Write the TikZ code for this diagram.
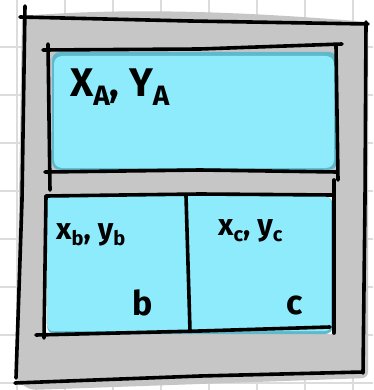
\documentclass[tikz,border=0pt]{standalone}
\usepackage{fontspec}
\setmainfont{Fira Sans}
\definecolor{gridc}{HTML}{DCDCDC}
\definecolor{frameg}{HTML}{C6C6C6}
\definecolor{cyanfill}{HTML}{8DEBFC}
\definecolor{cyanedge}{HTML}{5FB9CA}
\tikzset{
  ink/.style={draw=black, line width=3.6pt, line cap=round, line join=round},
  lbl/.style={font=\fontsize{30}{32}\selectfont\bfseries, inner sep=0pt, anchor=west},
  big/.style={font=\fontsize{34}{36}\selectfont\bfseries, inner sep=0pt, anchor=west},
}
\newcommand{\lowsub}[1]{\raisebox{-0.35ex}{\fontsize{20}{22}\selectfont\bfseries #1}}
\newcommand{\lowsubA}[1]{\raisebox{-0.45ex}{\fontsize{28}{30}\selectfont\bfseries #1}}
\begin{document}
\begin{tikzpicture}[x=1pt,y=-1pt]
\useasboundingbox (0,0) rectangle (373,390);
\fill[white] (0,0) rectangle (373,390);
% grid
\foreach \x in {17,65,113,161,209,257,305,353} \draw[gridc, line width=1.2pt] (\x,0) -- (\x,390);
\foreach \y in {47,95,143,191,239,287,335,383} \draw[gridc, line width=1.2pt] (0,\y) -- (373,\y);
% gray frame
\fill[frameg, rounded corners=6pt] (22,16) .. controls (100,10) and (200,8) .. (368,22) -- (368,378) -- (30,390) -- (16,380) -- cycle;
% inner fills
\fill[cyanedge, rounded corners=8pt] (52,52) rectangle (337,170);
\fill[cyanfill, rounded corners=8pt] (54,56) rectangle (334,168);
\fill[white] (45,194) rectangle (336,334);
\fill[cyanedge, rounded corners=8pt] (47,197) rectangle (333,334);
\fill[cyanfill, rounded corners=6pt] (47,196) rectangle (331,331);
% outer frame lines
\draw[ink] (20,17) -- (190,21) -- (368,24);
\draw[ink] (25,6) -- (22,200) -- (16,378);
\draw[ink] (366,22) -- (365,200) -- (363,373);
\draw[ink] (15,383) -- (200,376) -- (363,372);
% top inner box
\draw[ink] (43,50) -- (200,49) -- (342,44);
\draw[ink] (48,44) -- (50,190);
\draw[ink] (336,46) -- (338,180);
\draw[ink] (45,172) -- (200,170) -- (337,172);
% lower separator and boxes
\draw[ink] (46,196) -- (200,194) -- (333,195);
\draw[ink] (46,196) -- (44,338);
\draw[ink] (334,180) -- (334,333);
\draw[ink] (186,196) -- (190,331);
\draw[ink] (36,335) -- (200,331) -- (330,327);
% labels
\node[lbl, font=\fontsize{40}{42}\selectfont\bfseries] (ta) at (70,87) {X\lowsubA{A}, Y\lowsubA{A}};
\node[lbl] (tb) at (56,235) {x\lowsub{b}, y\lowsub{b}};
\node[lbl] (tc) at (218,231) {x\lowsub{c}, y\lowsub{c}};
\node[big] (nb) at (132,303) {b};
\node[big] (nc) at (286,305) {c};
\end{tikzpicture}
\end{document}
